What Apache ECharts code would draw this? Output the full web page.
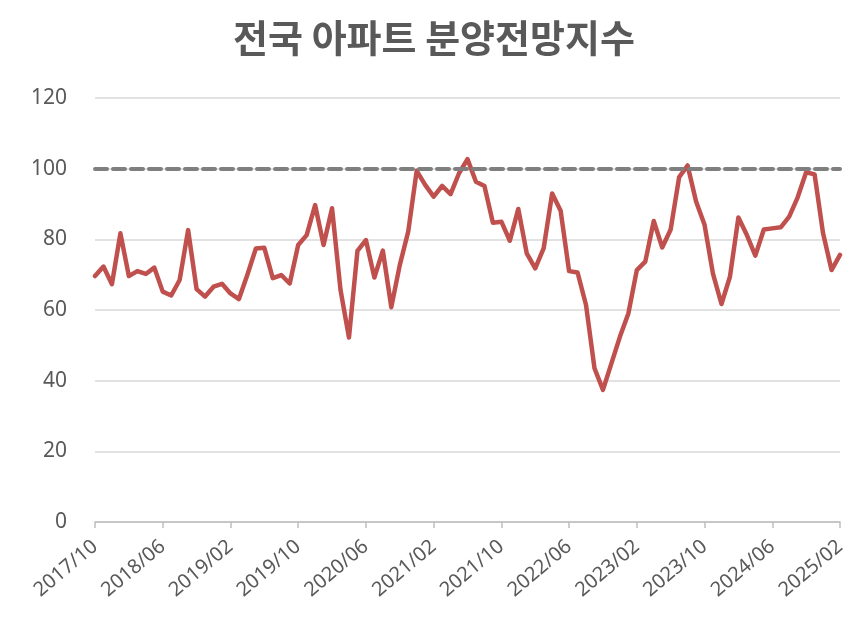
<!DOCTYPE html>
<html>
<head>
<meta charset="utf-8">
<script src="https://cdn.jsdelivr.net/npm/echarts@6/dist/echarts.min.js"></script>
<style>html,body{margin:0;padding:0;background:#fff}#c{width:868px;height:627px}</style>
</head>
<body>
<div id="c"></div>
<script>
const titleText = '전국 아파트 분양전망지수';
const startYear = 2017, startMonth = 10;
const values = [
  69.6, 72.3, 67.3, 81.7, 69.6, 71.0, 70.2, 72.0, 65.2, 64.1,
  68.5, 82.6, 65.9, 63.8, 66.6, 67.4, 64.7, 63.1, 70.0, 77.4,
  77.6, 69.0, 69.9, 67.5, 78.4, 81.2, 89.7, 78.4, 88.8, 65.7,
  52.2, 76.7, 79.8, 69.2, 76.8, 60.8, 72.7, 82.2, 99.4, 95.4,
  92.1, 95.1, 92.8, 98.7, 102.7, 96.3, 95.1, 84.7, 85.0, 79.6,
  88.6, 76.0, 71.8, 77.5, 93.0, 88.1, 71.0, 70.6, 61.4, 43.5,
  37.4, 44.9, 52.4, 59.0, 71.3, 73.7, 85.2, 77.7, 82.8, 97.6,
  100.9, 90.7, 84.1, 70.2, 61.7, 69.4, 86.2, 81.2, 75.4, 82.8,
  83.1, 83.4, 86.4, 91.9, 99.0, 98.4, 81.7, 71.3, 75.6
];
const referenceLevel = 100;
const yTicks = [0, 20, 40, 60, 80, 100, 120];

const categories = values.map((v, i) => {
  const m = startMonth - 1 + i;
  const y = startYear + Math.floor(m / 12);
  const mm = (m % 12) + 1;
  return y + '/' + String(mm).padStart(2, '0');
});

const chart = echarts.init(document.getElementById('c'));
chart.setOption({
  animation: false,
  title: {
    text: titleText,
    left: 'center',
    top: 14,
    textStyle: {
      fontFamily: 'Noto Sans CJK KR',
      fontWeight: 'bold',
      fontSize: 38,
      color: '#595959'
    }
  },
  grid: { left: 95, right: 28, top: 98, bottom: 105 },
  xAxis: {
    type: 'category',
    data: categories,
    boundaryGap: false,
    axisLine: { lineStyle: { color: '#bfbfbf', width: 1.5 } },
    axisTick: { show: true, interval: 7, length: 6, lineStyle: { color: '#bfbfbf', width: 1.5 } },
    axisLabel: {
      interval: 7,
      rotate: 40,
      fontFamily: 'Noto Sans',
      fontSize: 20,
      color: '#595959',
      margin: 22
    },
    splitLine: { show: false }
  },
  yAxis: {
    type: 'value',
    min: yTicks[0],
    max: yTicks[yTicks.length - 1],
    interval: 20,
    axisLine: { show: false },
    axisTick: { show: false },
    axisLabel: {
      fontFamily: 'Noto Sans',
      fontSize: 21,
      color: '#595959',
      margin: 28
    },
    splitLine: { lineStyle: { color: '#d9d9d9', width: 1.5 } }
  },
  series: [{
    type: 'line',
    data: values,
    symbol: 'none',
    lineStyle: { color: '#c0504d', width: 4.5, join: 'round', cap: 'round' },
    itemStyle: { color: '#c0504d' },
    markLine: {
      silent: true,
      symbol: 'none',
      label: { show: false },
      lineStyle: { color: '#7f7f7f', width: 4, type: [12, 6], cap: 'round' },
      data: [{ yAxis: referenceLevel }]
    },
    z: 3
  }]
});
</script>
</body>
</html>
